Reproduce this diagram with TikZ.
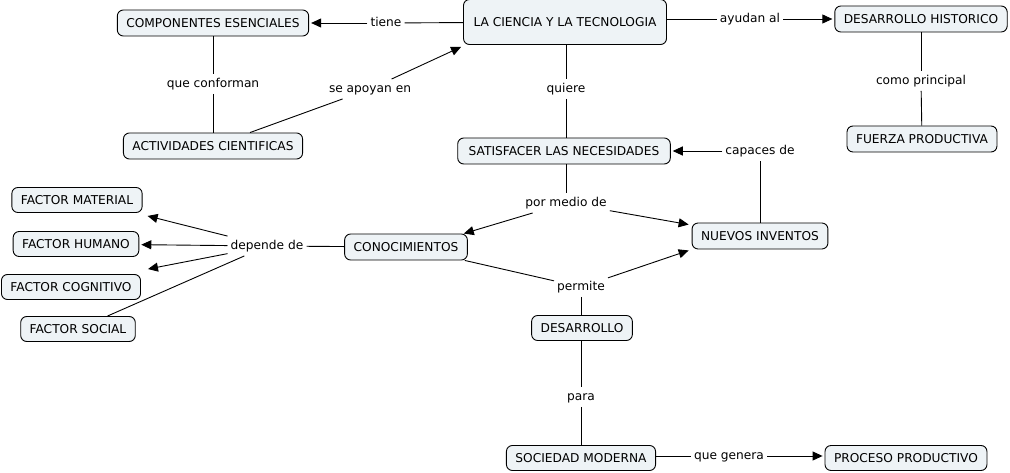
\documentclass[tikz,border=0pt]{standalone}
\usepackage{fontspec}
\setmainfont{DejaVu Sans}
\usetikzlibrary{arrows.meta,calc}
\definecolor{cfill}{RGB}{238,243,246}
\tikzset{
  concept/.style={draw=black, fill=cfill, rounded corners=6pt, line width=0.9pt,
    inner xsep=9pt, inner ysep=0pt, minimum height=26pt,
    font=\fontsize{12.2}{14}\selectfont, text height=9pt, text depth=0pt},
  lnk/.style={inner xsep=3pt, inner ysep=4pt, font=\fontsize{12.2}{14}\selectfont,
    text height=9pt, text depth=2.5pt},
  conn/.style={line width=0.9pt, black},
  arr/.style={conn, -{Triangle[length=10pt,width=9pt]}, shorten >=2pt}
}
\begin{document}
\begin{tikzpicture}[x=1pt,y=-1pt]
\useasboundingbox (0,0) rectangle (1010,473);
% concepts
\node[concept, minimum height=45pt, inner xsep=10pt] (lc) at (565,22) {LA CIENCIA Y LA TECNOLOGIA};
\node[concept] (ce) at (213,23) {COMPONENTES ESENCIALES};
\node[concept] (ac) at (213,146) {ACTIVIDADES CIENTIFICAS};
\node[concept] (dh) at (921,19) {DESARROLLO HISTORICO};
\node[concept] (fp) at (922,139) {FUERZA PRODUCTIVA};
\node[concept, inner xsep=11pt] (sn) at (564,151) {SATISFACER LAS NECESIDADES};
\node[concept] (ni) at (760,236) {NUEVOS INVENTOS};
\node[concept] (co) at (406,247) {CONOCIMIENTOS};
\node[concept, minimum height=25pt] (fm) at (77,200) {FACTOR MATERIAL};
\node[concept, minimum height=25pt] (fh) at (76,244) {FACTOR HUMANO};
\node[concept, minimum height=25pt] (fc) at (71,287) {FACTOR COGNITIVO};
\node[concept, minimum height=25pt] (fs) at (78,329) {FACTOR SOCIAL};
\node[concept, minimum height=25pt] (de) at (582,328) {DESARROLLO};
\node[concept, minimum height=25pt] (sm) at (581,458) {SOCIEDAD MODERNA};
\node[concept, minimum height=25pt] (pp) at (906,458) {PROCESO PRODUCTIVO};
% linking phrases
\node[lnk] (tiene) at (386,23) {tiene};
\node[lnk] (ayu) at (750,19) {ayudan al};
\node[lnk] (qc) at (213,84) {que conforman};
\node[lnk] (sae) at (370,89) {se apoyan en};
\node[lnk] (qui) at (566,89) {quiere};
\node[lnk] (cp) at (921,81) {como principal};
\node[lnk] (cap) at (760,151) {capaces de};
\node[lnk] (pmd) at (566,203) {por medio de};
\node[lnk] (dep) at (267,246) {depende de};
\node[lnk] (per) at (581,287) {permite};
\node[lnk] (para) at (581,397) {para};
\node[lnk] (qg) at (729,456) {que genera};
% connector end points near corners
\coordinate (lcsw) at ($(lc.south west)+(-2,2)$);
\coordinate (nisw) at ($(ni.south west)+(-3,1)$);
\coordinate (ninw) at ($(ni.north west)+(-3,2)$);
\coordinate (cone) at ($(co.north east)+(-4,0)$);
\coordinate (fmse) at ($(fm.south east)+(5,3)$);
\coordinate (fcne) at ($(fc.north east)+(7,-5)$);
% connectors
\draw[conn] (lc) -- (tiene);
\draw[arr] (tiene) -- (ce);
\draw[conn] (lc.east |- ayu) -- (ayu);
\draw[arr] (ayu) -- (dh.west |- ayu);
\draw[conn] (lc.south -| qui) -- (qui);
\draw[conn] (qui) -- (sn.north -| qui);
\draw[conn] (ce) -- (qc);
\draw[conn] (qc) -- (ac);
\draw[conn] (ac) -- (sae);
\draw[arr, shorten >=0pt] (sae) -- (lcsw);
\draw[conn] (dh) -- (cp);
\draw[conn] (cp) -- (fp);
\draw[conn] (sn.south -| pmd) -- (pmd);
\draw[arr, shorten >=0pt] (pmd) -- (cone);
\draw[arr, shorten >=0pt] (pmd) -- (ninw);
\draw[conn] (ni.north -| cap) -- (cap);
\draw[arr] (cap) -- (sn.east |- cap);
\draw[conn] (co) -- (dep);
\draw[arr, shorten >=0pt] (dep) -- (fmse);
\draw[arr] (dep) -- (fh);
\draw[arr, shorten >=0pt] (dep) -- (fcne);
\draw[conn] (dep) -- (fs);
\draw[conn] (co) -- (per);
\draw[arr, shorten >=0pt] (per) -- (nisw);
\draw[conn] (per) -- (de.north -| per);
\draw[conn] (de.south -| para) -- (para);
\draw[conn] (para) -- (sm.north -| para);
\draw[conn] (sm.east |- qg) -- (qg);
\draw[arr] (qg) -- (pp.west |- qg);
\end{tikzpicture}
\end{document}
